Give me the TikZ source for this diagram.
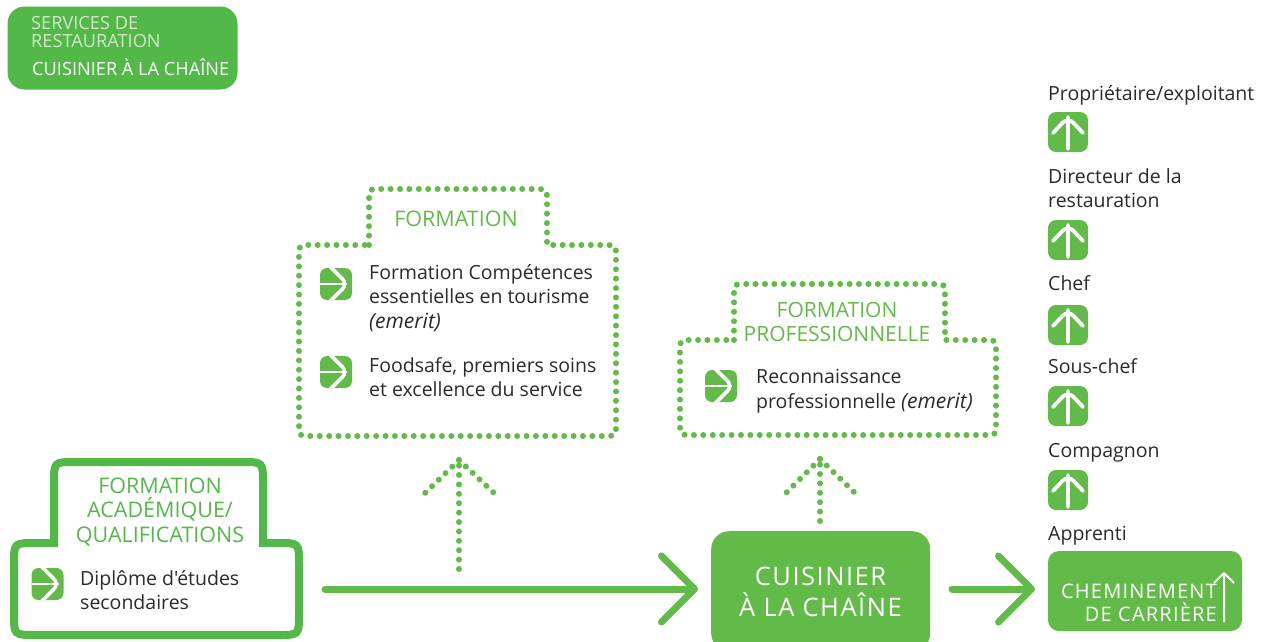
\documentclass[tikz,border=0pt]{standalone}
\usepackage{fontspec}
\setmainfont{Open Sans}[Ligatures=TeXOff]
\usetikzlibrary{arrows.meta}
\definecolor{gA}{HTML}{52B848}
\definecolor{gB}{HTML}{62BB48}
\definecolor{ink}{HTML}{2B2A29}
\definecolor{pale}{HTML}{D3E8C8}
\newcommand{\fs}[2]{\fontsize{#1}{#2}\selectfont}
\newcommand{\emr}{{\fontsize{21}{24.5}\selectfont\itshape (emerit)}}
% bump outline: x-left, x-bump-left, x-bump-right, x-right, y-top, y-shoulder, y-bottom, radius
\newcommand{\bumppath}[8]{%
  (#2,#6) -- (#2,#5+#8) .. controls (#2,#5) .. (#2+#8,#5) -- (#3-#8,#5) .. controls (#3,#5) .. (#3,#5+#8)
  -- (#3,#6) -- (#4-#8,#6) .. controls (#4,#6) .. (#4,#6+#8) -- (#4,#7-#8) .. controls (#4,#7) .. (#4-#8,#7)
  -- (#1+#8,#7) .. controls (#1,#7) .. (#1,#7-#8) -- (#1,#6+#8) .. controls (#1,#6) .. (#1+#8,#6) -- cycle}
\tikzset{
  x=1pt,y=-1pt,
  solidbox/.style={draw=gA,line width=8pt,line join=miter},
  dotbox/.style={draw=gB,line width=6pt,line cap=round,dash pattern=on 0pt off 9.4pt},
  dotarrow/.style={draw=gB,line width=6pt,line cap=round,dash pattern=on 0pt off 9.4pt},
  flow/.style={draw=gB,line width=7pt,line cap=round,-{Straight Barb[length=33pt,width=66pt,round]}},
  body/.style={inner sep=0pt,anchor=west,align=left,text=ink,font=\fs{19.5}{24.5}},
  headg/.style={inner sep=0pt,align=center,text=gB,font=\fs{21.5}{24.5}},
  ricon/.style={inner sep=0pt,minimum width=32pt,minimum height=32pt,fill=gB,rounded corners=7pt,
    path picture={
      \draw[white,line width=2.4pt] ([xshift=-2pt]path picture bounding box.west) -- ([xshift=-5pt]path picture bounding box.east);
      \draw[white,line width=3.6pt] ([xshift=-7.5pt,yshift=19pt]path picture bounding box.center) -- ([xshift=11.5pt]path picture bounding box.center) -- ([xshift=-7.5pt,yshift=-19pt]path picture bounding box.center);
    }},
  uicon/.style={inner sep=0pt,minimum width=40pt,minimum height=40pt,fill=gB,rounded corners=8pt,
    path picture={
      \draw[white,line width=3.8pt,line cap=round,line join=round]
        ([xshift=-15pt,yshift=-1pt]path picture bounding box.center) -- ([yshift=15pt]path picture bounding box.center) -- ([xshift=15pt,yshift=-1pt]path picture bounding box.center)
        ([yshift=15pt]path picture bounding box.center) -- ([yshift=-17pt]path picture bounding box.center);
    }},
}
\begin{document}
\begin{tikzpicture}
\useasboundingbox (0,0) rectangle (1270,641);
\clip (0,0) rectangle (1270,641);
% legend
\node[fill=gA,rounded corners=17pt,minimum width=230pt,minimum height=83pt,inner sep=0pt] (legend) at (122.5,48) {};
\node[inner sep=0pt,anchor=west,align=left,text=pale,font=\fs{18.2}{18}] (legendA) at (31,32) {SERVICES DE\\RESTAURATION};
\node[inner sep=0pt,anchor=west,text=white,font=\fs{18.2}{18}] (legendB) at (32,67.5) {CUISINIER À LA CHAÎNE};
% academic
\draw[solidbox] \bumppath{14}{54}{263}{299}{462}{543}{635}{21};
\node[headg,text=gA] (acadh) at (160,512) {FORMATION\\ACADÉMIQUE/\\QUALIFICATIONS};
\node[ricon] (i0) at (47.5,584) {};
\node[body] (acadt) at (80,590) {Diplôme d'études\\secondaires};
% formation
\draw[dotbox] \bumppath{299}{369}{547}{616}{189}{245}{436}{12};
\node[headg] (forh) at (456,219) {FORMATION};
\node[ricon] (i1) at (336,284) {};
\node[body] (fort1) at (369,298) {Formation Compétences\\essentielles en tourisme\\\emr};
\node[ricon] (i2) at (336,372) {};
\node[body] (fort2) at (369,377) {Foodsafe, premiers soins\\et excellence du service};
% pro
\draw[dotbox] \bumppath{680}{734}{945}{996}{284}{340}{435}{12};
\node[headg,font=\fs{21}{24.5}] (proh) at (837,322) {FORMATION\\PROFESSIONNELLE};
\node[ricon] (i3) at (721,386) {};
\node[body] (prot) at (756,391) {Reconnaissance\\professionnelle \emr};
% centre
\node[fill=gB,rounded corners=18pt,minimum width=219pt,minimum height=120pt,inner sep=0pt,anchor=north west] (cuis) at (711,531) {};
\node[inner sep=0pt,align=center,text=white,font=\fs{25.5}{31}] (cuist) at (820.5,592) {\addfontfeature{LetterSpace=6}CUISINIER\\\addfontfeature{LetterSpace=6}À LA CHAÎNE};
% career
\node[fill=gB,rounded corners=11pt,minimum width=194pt,minimum height=80pt,inner sep=0pt] (car) at (1145,591) {};
\node[inner sep=0pt,anchor=east,align=right,text=white,font=\fs{20}{22.5}] (cart) at (1217,603) {\addfontfeature{LetterSpace=6}CHEMINEMENT\\\addfontfeature{LetterSpace=6}DE CARRIÈRE};
\coordinate (cara) at (1224,622);
\coordinate (carb) at (1224,573);
\coordinate (carc) at (1214,583);
\coordinate (card) at (1234,583);
\draw[white,line width=2pt,line join=round] (cara) -- (carb) (carc) -- (carb) -- (card);
% ladder
\node[body] (l1) at (1048,95) {Propriétaire/exploitant};
\node[uicon] (u1) at (1068,132) {};
\node[body] (l2) at (1048,188) {Directeur de la\\restauration};
\node[uicon] (u2) at (1068,240) {};
\node[body] (l3) at (1048,283) {Chef};
\node[uicon] (u3) at (1068,325) {};
\node[body] (l4) at (1048,366) {Sous-chef};
\node[uicon] (u4) at (1068,406) {};
\node[body] (l5) at (1048,453) {Compagnon};
\node[uicon] (u5) at (1068,490) {};
\node[body] (l6) at (1048,536) {Apprenti};
% connectors
\coordinate (a1s) at (325,589); \coordinate (a1e) at (698,589);
\draw[flow] (a1s) -- (a1e);
\coordinate (a2s) at (952,589); \coordinate (a2e) at (1035,589);
\draw[flow] (a2s) -- (a2e);
\coordinate (d1s) at (459,569); \coordinate (d1t) at (459,460);
\coordinate (d1l) at (424,494); \coordinate (d1r) at (495,494);
\draw[dotarrow] (d1s) -- (d1t);
\draw[dotarrow] (d1t) -- (d1l);
\draw[dotarrow] (d1t) -- (d1r);
\coordinate (d2s) at (820,521); \coordinate (d2t) at (820,459);
\coordinate (d2l) at (786,493); \coordinate (d2r) at (855,493);
\draw[dotarrow] (d2s) -- (d2t);
\draw[dotarrow] (d2t) -- (d2l);
\draw[dotarrow] (d2t) -- (d2r);
\end{tikzpicture}
\end{document}
